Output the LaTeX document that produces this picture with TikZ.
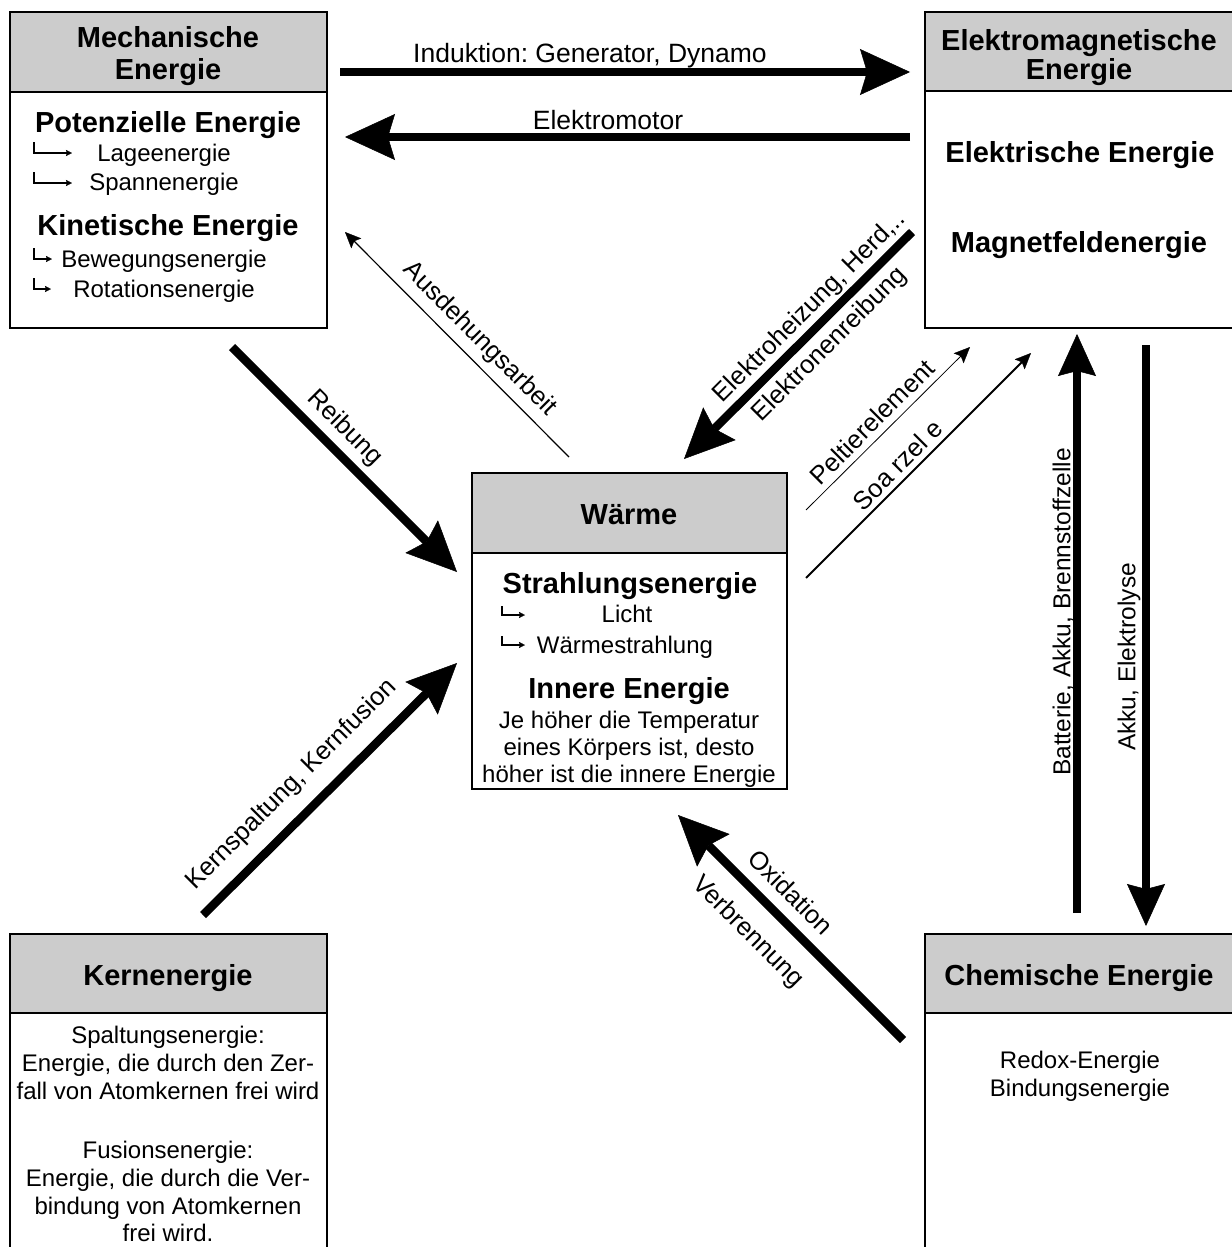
\documentclass[tikz,border=0pt]{standalone}
\usepackage{fontspec}
\setmainfont{Liberation Sans}
\usetikzlibrary{arrows.meta}
\definecolor{headgray}{HTML}{CCCCCC}
\frenchspacing
\begin{document}
\begin{tikzpicture}[x=1pt,y=-1pt,
  boxframe/.style={draw, line width=2.2pt, inner sep=0pt, outer sep=0pt, anchor=north west},
  headframe/.style={draw, fill=headgray, line width=2.2pt, inner sep=0pt, outer sep=0pt, anchor=north west},
  bigtxt/.style={font=\fontsize{29}{32}\selectfont\bfseries, inner sep=0pt, anchor=base},
  txt/.style={font=\fontsize{24}{27}\selectfont, inner sep=0pt, anchor=base},
  arrtxt/.style={font=\fontsize{26.5}{30}\selectfont, inner sep=0pt, anchor=base},
  lbl/.style={font=\fontsize{25.5}{29}\selectfont, inner sep=0pt, anchor=center},
  vlbl/.style={font=\fontsize{24.5}{28}\selectfont, inner sep=0pt, anchor=center, rotate=90},
  bigarrow/.style={line width=8.5pt, -{Stealth[length=50pt,width=46pt,inset=7pt,line width=0.5pt]}},
  vertarrow/.style={line width=7.5pt, -{Stealth[length=42pt,width=38pt,inset=5pt,line width=0.5pt]}},
  thinarrow/.style={-{Stealth[length=16pt,width=14pt,inset=3pt,line width=0.3pt]}},
  subarr/.style={line width=1.3pt, -{Stealth[length=6pt,width=6pt,inset=1pt,line width=0.3pt]}}
]
\useasboundingbox (0,0) rectangle (1231,1247);
\fill[white] (0,0) rectangle (1231,1247);

% ---------- Mechanische Energie ----------
\node[headframe, minimum width=317pt, minimum height=80pt] (mechhead) at (10,12) {};
\node[boxframe, minimum width=317pt, minimum height=316pt] (mech) at (10,12) {};
\node[bigtxt] (mechT1) at (168,48) {Mechanische};
\node[bigtxt] (mechT2) at (168,80) {Energie};
\node[bigtxt] (pot) at (168,132) {Potenzielle Energie};
\node[txt] (lage) at (164,161) {Lageenergie};
\node[txt] (spann) at (164,190) {Spannenergie};
\node[bigtxt] (kin) at (168,235) {Kinetische Energie};
\node[txt] (beweg) at (164,267) {Bewegungsenergie};
\node[txt] (rot) at (164,297) {Rotationsenergie};
\draw[subarr] (34,142) |- (72,153);
\draw[subarr] (34,172) |- (72,183);
\draw[subarr] (34,248) |- (52,259);
\draw[subarr] (34,278) |- (51,289);

% ---------- Elektromagnetische Energie ----------
\node[headframe, minimum width=308pt, minimum height=79pt] (emhead) at (925,12) {};
\node[boxframe, minimum width=308pt, minimum height=316pt] (em) at (925,12) {};
\node[bigtxt] (emT1) at (1079,51) {Elektromagnetische};
\node[bigtxt] (emT2) at (1079,80) {Energie};
\node[bigtxt] (elek) at (1080,162) {Elektrische Energie};
\node[bigtxt] (magn) at (1079,252) {Magnetfeldenergie};

% ---------- Waerme ----------
\node[headframe, minimum width=315pt, minimum height=80pt] (whead) at (472,473) {};
\node[boxframe, minimum width=315pt, minimum height=316pt] (waerme) at (472,473) {};
\node[bigtxt] (wT) at (629,524) {Wärme};
\node[bigtxt] (strahl) at (630,593) {Strahlungsenergie};
\node[txt] (licht) at (627,622) {Licht};
\node[txt] (wstrahl) at (625,653) {Wärmestrahlung};
\draw[subarr] (502,606) |- (525,615);
\draw[subarr] (502,636) |- (525,645);
\node[bigtxt] (inner) at (629,698) {Innere Energie};
\node[txt] (w1) at (629,728) {Je höher die Temperatur};
\node[txt] (w2) at (629,755) {eines Körpers ist, desto};
\node[txt] (w3) at (629,782) {höher ist die innere Energie};

% ---------- Kernenergie ----------
\node[headframe, minimum width=317pt, minimum height=79pt] (khead) at (10,934) {};
\node[boxframe, minimum width=317pt, minimum height=330pt] (kern) at (10,934) {};
\node[bigtxt] (kT) at (168,985) {Kernenergie};
\node[txt] (k1) at (168,1043) {Spaltungsenergie:};
\node[txt] (k2) at (168,1071) {Energie, die durch den Zer-};
\node[txt] (k3) at (168,1099) {fall von Atomkernen frei wird};
\node[txt] (k4) at (168,1158) {Fusionsenergie:};
\node[txt] (k5) at (168,1186) {Energie, die durch die Ver-};
\node[txt] (k6) at (168,1214) {bindung von Atomkernen};
\node[txt] (k7) at (168,1241) {frei wird.};

% ---------- Chemische Energie ----------
\node[headframe, minimum width=308pt, minimum height=79pt] (chead) at (925,934) {};
\node[boxframe, minimum width=308pt, minimum height=330pt] (chem) at (925,934) {};
\node[bigtxt] (cT) at (1079,985) {Chemische Energie};
\node[txt] (c1) at (1080,1068) {Redox-Energie};
\node[txt] (c2) at (1080,1096) {Bindungsenergie};

% ---------- arrow end points ----------
\coordinate (indA) at (340,72);   \coordinate (indB) at (910,72);
\coordinate (motA) at (910,137);  \coordinate (motB) at (345,137);
\coordinate (reiA) at (232,347);  \coordinate (reiB) at (457,572);
\coordinate (ausA) at (569,457);  \coordinate (ausB) at (345,232);
\coordinate (hzA) at (912,232);   \coordinate (hzB) at (684,459);
\coordinate (pelA) at (806,510);  \coordinate (pelB) at (970,347);
\coordinate (solA) at (806,578);  \coordinate (solB) at (1031,353);
\coordinate (batA) at (1077,913); \coordinate (batB) at (1077,334);
\coordinate (akA) at (1146,345);  \coordinate (akB) at (1146,926);
\coordinate (oxA) at (903,1040);  \coordinate (oxB) at (678,815);
\coordinate (knA) at (203,915);   \coordinate (knB) at (457,663);

\draw[bigarrow] (indA) -- (indB);
\draw[bigarrow] (motA) -- (motB);
\draw[bigarrow] (reiA) -- (reiB);
\draw[thinarrow, line width=1.2pt] (ausA) -- (ausB);
\draw[bigarrow] (hzA) -- (hzB);
\draw[thinarrow, line width=0.8pt] (pelA) -- (pelB);
\draw[thinarrow, line width=1.8pt] (solA) -- (solB);
\draw[vertarrow] (batA) -- (batB);
\draw[vertarrow] (akA) -- (akB);
\draw[bigarrow] (oxA) -- (oxB);
\draw[bigarrow] (knA) -- (knB);

% ---------- labels ----------
\node[arrtxt] (lInd) at (590,63) {Induktion: Generator, Dynamo};
\node[arrtxt] (lMot) at (608,129) {Elektromotor};
\node[lbl, rotate=-45] (lRei) at (345,428) {Reibung};
\node[lbl, rotate=-45] (lAus) at (480,339) {Ausdehungsarbeit};
\node[lbl, rotate=45] (lHz1) at (810,307) {Elektroheizung, Herd,..};
\node[lbl, rotate=45] (lHz2) at (830,345) {Elektronenreibung};
\node[lbl, rotate=45] (lPel) at (872,422) {Peltierelement};
\node[lbl, rotate=45] (lSol) at (898,465) {Soa rzel e};
\node[lbl, rotate=-45] (lOx1) at (791,892) {Oxidation};
\node[lbl, rotate=-45] (lOx2) at (748,932) {Verbrennung};
\node[lbl, rotate=45] (lKern) at (292,785) {Kernspaltung, Kernfusion};
\node[vlbl] (lBat) at (1063,612) {Batterie, Akku, Brennstoffzelle};
\node[vlbl] (lAk) at (1129,657) {Akku, Elektrolyse};
\end{tikzpicture}
\end{document}
